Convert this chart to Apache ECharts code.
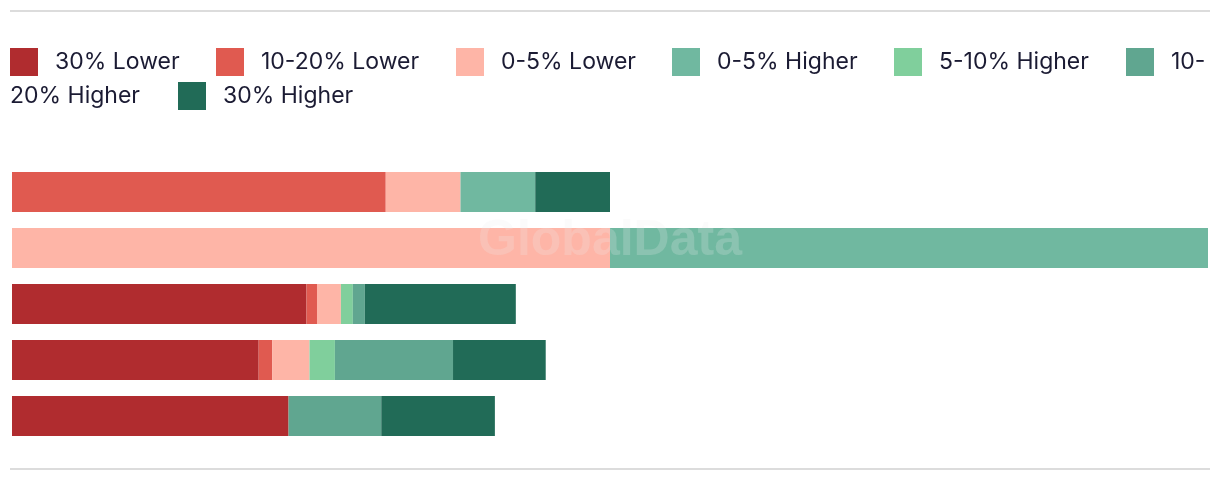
<!DOCTYPE html>
<html>
<head>
<meta charset="utf-8">
<script src="https://cdn.jsdelivr.net/npm/echarts@6/dist/echarts.min.js"></script>
<style>
  html, body { margin: 0; padding: 0; background: #fff; }
  #chart { width: 1220px; height: 482px; }
</style>
</head>
<body>
<div id="chart"></div>
<script>
// row names are not shown on the chart
const categories = ['Row 1', 'Row 2', 'Row 3', 'Row 4', 'Row 5'];
const seriesNames = ['30% Lower', '10-20% Lower', '0-5% Lower', '0-5% Higher', '5-10% Higher', '10-20% Higher', '30% Higher'];
const seriesColors = ['#b02c2f', '#e05a50', '#feb5a7', '#70b8a0', '#80cf9c', '#60a690', '#216b57'];

const lower30 = [0, 0, 19.7, 16.5, 18.5];
const lower10to20 = [25, 0, 0.7, 0.9, 0];
const lower0to5 = [5, 40, 1.6, 2.5, 0];
const higher0to5 = [5, 40, 0, 0, 0];
const higher5to10 = [0, 0, 0.8, 1.7, 0];
const higher10to20 = [0, 0, 0.8, 7.9, 6.2];
const higher30 = [5, 0, 10.1, 6.2, 7.6];

const allValues = [lower30, lower10to20, lower0to5, higher0to5, higher5to10, higher10to20, higher30];

const chart = echarts.init(document.getElementById('chart'));

const textColor = '#1b1b33';
const fontFamily = 'Inter, "Noto Sans", sans-serif';

// one legend per item so each box sits where the reference puts it
const legendSpots = [
  [10, 48], [216, 48], [456, 48], [672, 48], [894, 48], [1126, 48], [178, 82],
];

const legends = seriesNames.map((name, i) => ({
  data: [name],
  left: legendSpots[i][0],
  top: legendSpots[i][1],
  padding: 0,
  icon: 'rect',
  itemWidth: 28,
  itemHeight: 28,
  selectedMode: false,
  formatter: (n) => (n === '10-20% Higher' ? '10-' : n),
  textStyle: {
    color: textColor,
    fontSize: 23,
    fontFamily: fontFamily,
    padding: [0, 0, 0, 12],
  },
}));

const series = seriesNames.map((name, i) => ({
  name: name,
  type: 'bar',
  stack: 'total',
  barWidth: 40,
  itemStyle: { color: seriesColors[i] },
  emphasis: { disabled: true },
  data: allValues[i],
}));

const options = {
  animation: false,
  legend: legends,
  grid: {
    left: 12,
    right: 12,
    top: 164,
    bottom: 38,
    containLabel: false,
  },
  xAxis: {
    type: 'value',
    min: 0,
    max: 80,
    show: false,
  },
  yAxis: {
    type: 'category',
    inverse: true,
    data: categories,
    show: false,
  },
  series: series,
  graphic: [
    {
      type: 'line',
      shape: { x1: 10, y1: 11, x2: 1210, y2: 11 },
      style: { stroke: '#dcdcdc', lineWidth: 2 },
    },
    {
      type: 'line',
      shape: { x1: 10, y1: 469, x2: 1210, y2: 469 },
      style: { stroke: '#dcdcdc', lineWidth: 2 },
    },
    {
      // wrapped tail of the "10-20% Higher" legend label
      type: 'text',
      left: 10,
      top: 85,
      style: {
        text: '20% Higher',
        fill: textColor,
        font: '23px ' + fontFamily,
      },
    },
    {
      type: 'text',
      z: 100,
      x: 610,
      y: 241,
      style: {
        text: 'GlobalData',
        fill: 'rgba(238,238,238,0.22)',
        font: 'bold 50px "Liberation Sans", Arial, sans-serif',
        align: 'center',
        verticalAlign: 'middle',
      },
    },
  ],
};

chart.setOption(options);
</script>
</body>
</html>
